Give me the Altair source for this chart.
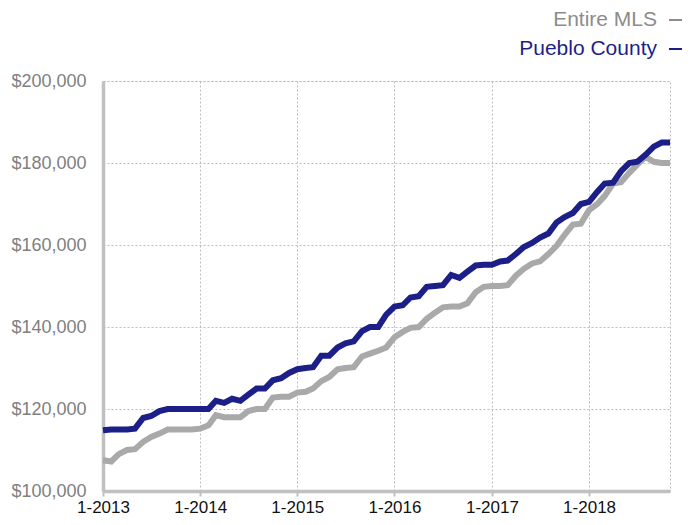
import altair as alt
import pandas as pd

months = [d.strftime("%Y-%m-%dT00:00:00") for d in pd.date_range("2013-01-01", "2018-11-01", freq="MS")]

pueblo_county = [
    114800, 115000, 115000, 115000, 115200, 117800, 118300, 119500, 120000, 120000, 120000, 120000,
    120000, 120000, 122000, 121500, 122500, 122000, 123500, 125000, 125000, 127000, 127500, 128800,
    129700, 130000, 130200, 133000, 133000, 135000, 136000, 136500, 139000, 140000, 140000, 143000,
    145000, 145300, 147200, 147500, 149800, 150000, 150200, 152700, 152000, 153500, 155000, 155200,
    155200, 156000, 156200, 157800, 159500, 160500, 161800, 162800, 165500, 166800, 167800, 170000,
    170500, 173000, 175000, 175200, 178000, 180000, 180300, 182000, 184000, 185000, 185000,
]
entire_mls = [
    107500, 107200, 109000, 110000, 110200, 112000, 113200, 114000, 115000, 115000, 115000, 115000,
    115200, 116000, 118500, 118000, 118000, 118000, 119500, 120000, 120000, 122800, 123000, 123000,
    124000, 124200, 125000, 126800, 127800, 129700, 130000, 130200, 132800, 133500, 134200, 135000,
    137500, 138800, 139800, 140000, 142000, 143500, 144800, 145000, 145000, 145800, 148500, 149800,
    150000, 150000, 150200, 152500, 154200, 155500, 156000, 157800, 159800, 162500, 165000, 165200,
    168500, 170000, 172000, 175000, 175300, 177600, 179600, 181500, 180300, 180000, 180000,
]
series_names = ["Entire MLS", "Pueblo County"]
series_colors = ["#a9a9a9", "#1c1f88"]
label_colors = ["#8c8c8c", "#1c1f88"]
y_ticks = [100000, 120000, 140000, 160000, 180000, 200000]
x_tick_years = [2013, 2014, 2015, 2016, 2017, 2018]

df = pd.DataFrame({
    "month": months * 2,
    "price": entire_mls + pueblo_county,
    "series": [series_names[0]] * len(months) + [series_names[1]] * len(months),
    "order": [0] * len(months) + [1] * len(months),
})

FONT = "Liberation Sans"

x_enc = alt.X(
    "month:T",
    scale=alt.Scale(domain=[alt.DateTime(year=2013, month=1, date=1), alt.DateTime(year=2018, month=11, date=1)]),
    axis=alt.Axis(
        title=None,
        values=[alt.DateTime(year=y, month=1, date=1) for y in x_tick_years],
        format="%-m-%Y",
        labelColor="#111111",
        labelFontSize=17,
        labelFont=FONT,
        labelPadding=3,
        labelFlush=False,
        domainColor="#c0c0c0",
        domainWidth=3.5,
        tickColor="#c0c0c0",
        tickSize=5,
        tickWidth=2,
        grid=True,
        gridColor="#bdbdbd",
        gridDash=[2, 2],
        gridWidth=1,
    ),
)
y_enc = alt.Y(
    "price:Q",
    scale=alt.Scale(domain=[100000, 200000], nice=False),
    axis=alt.Axis(
        title=None,
        values=y_ticks,
        format="$,.0f",
        labelColor="#808080",
        labelFontSize=18,
        labelFont=FONT,
        labelPadding=17,
        ticks=False,
        domainColor="#c0c0c0",
        domainWidth=3.5,
        grid=True,
        gridColor="#bdbdbd",
        gridDash=[2, 2],
        gridWidth=1,
    ),
)

lines = alt.Chart(df).mark_line(strokeWidth=6, strokeJoin="miter").encode(
    x=x_enc,
    y=y_enc,
    color=alt.Color("series:N", scale=alt.Scale(domain=series_names, range=series_colors), legend=None),
    detail="series:N",
    order="order:Q",
)

legend_df = pd.DataFrame({"series": series_names, "ypos": [-61, -32]})

legend_text = alt.Chart(legend_df).mark_text(
    align="right", baseline="middle", fontSize=21, font=FONT
).encode(
    text="series:N",
    x=alt.value(554),
    y=alt.Y("ypos:Q", scale=None),
    color=alt.Color("series:N", scale=alt.Scale(domain=series_names, range=label_colors), legend=None),
)

legend_dash = alt.Chart(legend_df).mark_rule(strokeWidth=2).encode(
    x=alt.value(566),
    x2=alt.value(579),
    y=alt.Y("ypos:Q", scale=None),
    color=alt.Color("series:N", scale=alt.Scale(domain=series_names, range=label_colors), legend=None),
)

chart = alt.layer(lines, legend_text, legend_dash).resolve_scale(color="independent").properties(
    width=567,
    height=410,
    autosize=alt.AutoSizeParams(type="none"),
    padding={"left": 95, "top": 73, "right": 13, "bottom": 26},
).configure_view(
    stroke="#bdbdbd", strokeDash=[2, 2], strokeWidth=1
)

chart.save("out.html", embed_options={"renderer": "svg", "actions": False})
